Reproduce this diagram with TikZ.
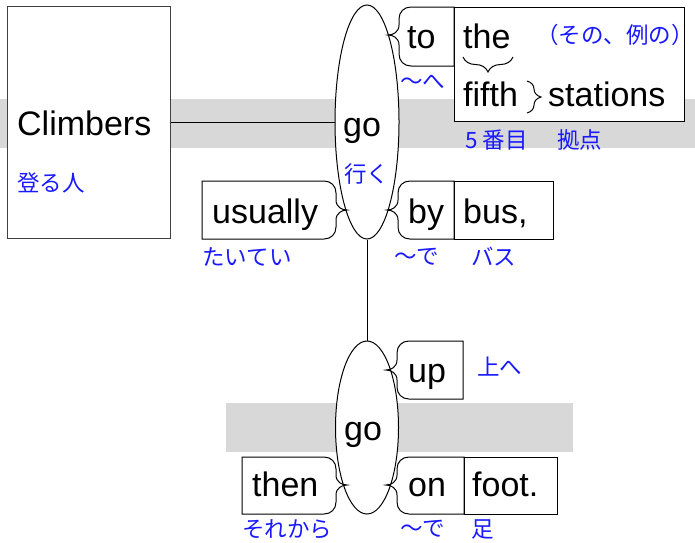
\documentclass[tikz,border=0pt]{standalone}
\usepackage{fontspec}
\setmainfont{Liberation Sans}
\newfontfamily\jp{Noto Sans CJK JP}
\usetikzlibrary{shapes.geometric,decorations.pathreplacing}
\definecolor{jblue}{RGB}{25,25,255}
\definecolor{bandgray}{RGB}{216,216,216}
\definecolor{boxgray}{RGB}{64,64,64}
\tikzset{
  en/.style={anchor=base west, inner sep=0pt, font=\fontsize{34}{40}\selectfont},
  ja/.style={anchor=west, inner sep=0pt, text=jblue, font=\jp\fontsize{22.5}{26}\selectfont},
  frame/.style={draw=black, line width=1pt},
  verb/.style={ellipse, draw=black, line width=1pt, fill=white, inner sep=0pt},
  link/.style={draw=black, line width=1pt},
  curly/.style={draw=black, line width=1pt, decorate, decoration={brace, amplitude=#1}},
}
% box whose left side is a brace: tipx, tipy, top, bottom, right
\newcommand\lbrbox[5]{\draw[frame] (#5,#3) -- ({#1+23},#3) .. controls ({#1+16},#3) and ({#1+11},{#3+5}) .. ({#1+11},{#3+12}) -- ({#1+11},{#2-10}) .. controls ({#1+11},{#2-3}) and ({#1+5},#2) .. (#1,#2) .. controls ({#1+5},#2) and ({#1+11},{#2+3}) .. ({#1+11},{#2+10}) -- ({#1+11},{#4-12}) .. controls ({#1+11},{#4-5}) and ({#1+16},#4) .. ({#1+23},#4) -- (#5,#4) -- cycle;}
% box whose right side is a brace: tipx, tipy, top, bottom, left
\newcommand\rbrbox[5]{\draw[frame] (#5,#3) -- ({#1-23},#3) .. controls ({#1-16},#3) and ({#1-11},{#3+5}) .. ({#1-11},{#3+12}) -- ({#1-11},{#2-10}) .. controls ({#1-11},{#2-3}) and ({#1-5},#2) .. (#1,#2) .. controls ({#1-5},#2) and ({#1-11},{#2+3}) .. ({#1-11},{#2+10}) -- ({#1-11},{#4-12}) .. controls ({#1-11},{#4-5}) and ({#1-16},#4) .. ({#1-23},#4) -- (#5,#4) -- cycle;}
\begin{document}
\begin{tikzpicture}[x=1pt,y=-1pt]
\useasboundingbox (0,0) rectangle (695,542);
% gray bands
\fill[bandgray] (0,99) rectangle (695,148);
\fill[bandgray] (226,403) rectangle (573,452);
% subject box and verbs
\node[draw=boxgray, fill=white, line width=1pt, minimum width=163pt, minimum height=232pt, inner sep=0pt] (climbers) at (88.5,122) {};
\node[verb, minimum width=64pt, minimum height=234pt] (go1) at (367,122) {};
\node[verb, minimum width=63pt, minimum height=173pt] (go2) at (367,427.5) {};
\draw[link] (climbers) -- (go1);
\draw[link] (go1) -- (go2);
% modifier boxes
\lbrbox{388}{35}{7}{66}{454}
\draw[frame, fill=white] (454,7) rectangle (684,121);
\rbrbox{347}{210}{181}{239}{202}
\lbrbox{387}{210}{181}{239}{454}
\draw[frame] (454,181) rectangle (553,239);
\lbrbox{386}{370}{341}{399}{463}
\rbrbox{347}{485}{457}{514}{242}
\lbrbox{386}{485}{457}{514}{464}
\draw[frame] (464,457) rectangle (557,514);
% braces inside the phrase box
\draw[curly=15pt] (513,57) -- (463,57);
\draw[curly=14pt] (527,81) -- (527,113);
% English words
\node[en] (tClimbers) at (17,135.5) {Climbers};
\node[en] (tgo1) at (343,136) {go};
\node[en] (tto) at (407,48) {to};
\node[en] (tthe) at (463,48) {the};
\node[en] (tfifth) at (463,106) {fifth};
\node[en] (tstations) at (548,106) {stations};
\node[en] (tusually) at (212,223) {usually};
\node[en] (tby) at (408,223) {by};
\node[en] (tbus) at (463,223) {bus,};
\node[en] (tup) at (408,382) {up};
\node[en] (tgo2) at (344,440) {go};
\node[en] (tthen) at (252,496) {then};
\node[en] (ton) at (408,496) {on};
\node[en] (tfoot) at (472,496) {foot.};
% Japanese glosses
\node[ja] (j1) at (17,183) {登る人};
\node[ja] (j2) at (344,174) {行く};
\node[ja] (j3) at (536,35) {（その、例の）};
\node[ja] (j4) at (400,82) {～へ};
\node[ja] (j5) at (465,140) {5 番目};
\node[ja] (j6) at (557,140) {拠点};
\node[ja] (j7) at (202,257) {たいてい};
\node[ja] (j8) at (394,257) {～で};
\node[ja] (j9) at (471,257) {バス};
\node[ja] (j10) at (477,367) {上へ};
\node[ja] (j11) at (242,529) {それから};
\node[ja] (j12) at (400,529) {～で};
\node[ja] (j13) at (471,529) {足};
\end{tikzpicture}
\end{document}
